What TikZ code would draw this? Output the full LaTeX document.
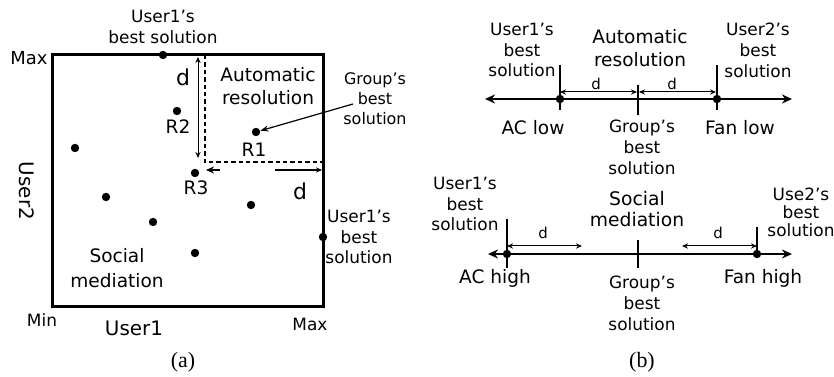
\documentclass[tikz,border=0pt]{standalone}
\usepackage{fontspec}
\setmainfont{DejaVu Sans}
\newfontfamily\capfont{Liberation Serif}
\usetikzlibrary{arrows.meta, positioning, calc}

\begin{document}
\begin{tikzpicture}[x=0.5bp, y=-0.5bp,
    dot/.style={circle, fill, inner sep=0pt, minimum size=4.2bp},
    txt/.style={align=center, inner sep=0pt, font=\fontsize{8.5}{10.5}\selectfont},
    big/.style={align=center, inner sep=0pt, font=\fontsize{9.3}{11.5}\selectfont},
    dimline/.style={line width=0.5bp, {Stealth[length=3bp, width=2.6bp]}-{Stealth[length=3bp, width=2.6bp]}},
    axisline/.style={line width=1.3bp, {Stealth[length=5bp, width=4.5bp]}-{Stealth[length=5bp, width=4.5bp]}},
    tick/.style={line width=0.6bp}]
    \useasboundingbox (0,0) rectangle (834,377);

    % (a) Decision space
    \draw[line width=1.5bp] (52,55) coordinate (tl) rectangle (323,307) coordinate (br);
    \node[font=\fontsize{9}{11}\selectfont, inner sep=0pt] (maxy) at (29,58) {Max};
    \node[font=\fontsize{8.5}{10}\selectfont, inner sep=0pt] (min) at (42,320) {Min};
    \node[font=\fontsize{8.5}{10}\selectfont, inner sep=0pt] (maxx) at (310,324) {Max};
    \node[font=\fontsize{10}{12}\selectfont, inner sep=0pt] (user1) at (134,328) {User1};
    \node[font=\fontsize{10}{12}\selectfont, inner sep=0pt, rotate=-90] (user2) at (27,191) {User2};

    % best solutions of each user
    \node[txt] (u1top) at (163,27) {User1’s\\best solution};
    \node[dot] (p1) at (163,55) {};
    \node[txt] (u1right) at (359,237) {User1’s\\best\\solution};
    \node[dot] (p2) at (323,237) {};

    % distance d
    \coordinate (dtop) at (198,57);
    \coordinate (dbot) at (198,158);
    \draw[dimline] (dtop) -- (dbot);
    \node[font=\fontsize{11}{13}\selectfont, inner sep=0pt] (dv) at (183,77) {d};
    \coordinate (c0) at (205,55);
    \coordinate (c1) at (205,162);
    \coordinate (c2) at (323,162);
    \draw[line width=1bp, dash pattern=on 2.2bp off 1.5bp] (c0) -- (c1) -- (c2);
    \coordinate (hl0) at (220,170);
    \coordinate (hl1) at (206,170);
    \coordinate (hr0) at (275,170);
    \coordinate (hr1) at (322,170);
    \draw[line width=1bp, -{Stealth[length=4bp, width=3.5bp]}] (hl0) -- (hl1);
    \draw[line width=0.6bp, -{Stealth[length=3bp, width=2.6bp]}] (hr0) -- (hr1);
    \node[font=\fontsize{11}{13}\selectfont, inner sep=0pt] (dh) at (300,191) {d};

    % regions
    \node[big] (autoa) at (268,86) {Automatic\\resolution};
    \node[big, font=\fontsize{9.3}{12.5}\selectfont] (sociala) at (117,268) {Social\\mediation};

    % candidate solutions
    \node[dot] (r1) at (256,132) {};
    \node[font=\fontsize{9.3}{11}\selectfont, inner sep=0pt] (r1l) at (254,150) {R1};
    \node[dot] (r2) at (177,111) {};
    \node[font=\fontsize{9.3}{11}\selectfont, inner sep=0pt] (r2l) at (178,127) {R2};
    \node[dot] (r3) at (195,173) {};
    \node[font=\fontsize{9.3}{11}\selectfont, inner sep=0pt] (r3l) at (196,188) {R3};
    \foreach \x/\y [count=\i] in {75/148, 106/197, 153/222, 251/205, 195/253}
        \node[dot] (s\i) at (\x,\y) {};

    % group's best solution
    \node[txt, font=\fontsize{8}{10}\selectfont] (groupa) at (375,99) {Group’s\\best\\solution};
    \draw[line width=0.6bp, -{Stealth[length=4bp, width=3bp]}] (353,104) -- (r1);
    \node[font=\capfont\fontsize{11}{13}\selectfont, inner sep=0pt] (capa) at (183,362) {(a)};

    % (b) Low setting line
    \coordinate (la) at (485,99);
    \coordinate (lb) at (792,99);
    \draw[axisline] (la) -- (lb);
    \node[dot] (acl) at (560,99) {};
    \node[dot] (fanl) at (717,99) {};
    \draw[tick] (560,65) -- (560,110);
    \draw[tick] (717,65) -- (717,110);
    \draw[tick] (638,85) -- (638,115);
    \draw[dimline] (560,92) -- (637,92);
    \draw[dimline] (639,92) -- (716,92);
    \node[font=\fontsize{7.5}{9}\selectfont, inner sep=0pt] (d1) at (596,84) {d};
    \node[font=\fontsize{7.5}{9}\selectfont, inner sep=0pt] (d2) at (672,84) {d};
    \node[txt] (u1low) at (522,50) {User1’s\\best\\solution};
    \node[big] (autob) at (640,48) {Automatic\\resolution};
    \node[txt] (u2low) at (758,50) {User2’s\\best\\solution};
    \node[big] (aclow) at (533,128) {AC low};
    \node[txt] (grouplow) at (642,147) {Group’s\\best\\solution};
    \node[big] (fanlow) at (740,128) {Fan low};

    % (b) High setting line
    \coordinate (ha) at (488,254);
    \coordinate (hb) at (792,254);
    \draw[axisline] (ha) -- (hb);
    \node[dot] (ach) at (507,254) {};
    \node[dot] (fanh) at (757,254) {};
    \draw[tick] (507,219) -- (507,268);
    \draw[tick] (757,227) -- (757,254);
    \draw[tick] (638,240) -- (638,268);
    \draw[dimline] (507,246) -- (582,246);
    \draw[dimline] (682,246) -- (757,246);
    \node[font=\fontsize{7.5}{9}\selectfont, inner sep=0pt] (d3) at (543,233) {d};
    \node[font=\fontsize{7.5}{9}\selectfont, inner sep=0pt] (d4) at (718,233) {d};
    \node[txt] (u1high) at (465,204) {User1’s\\best\\solution};
    \node[big, font=\fontsize{9.4}{11}\selectfont] (socialb) at (637,209) {Social\\mediation};
    \node[txt, font=\fontsize{8.5}{9}\selectfont] (u2high) at (801,212) {Use2’s\\best\\solution};
    \node[big] (achigh) at (495,278) {AC high};
    \node[txt] (grouphigh) at (642,303) {Group’s\\best\\solution};
    \node[big] (fanhigh) at (763,278) {Fan high};
    \node[font=\capfont\fontsize{11}{13}\selectfont, inner sep=0pt] (capb) at (642,362) {(b)};
\end{tikzpicture}
\end{document}
